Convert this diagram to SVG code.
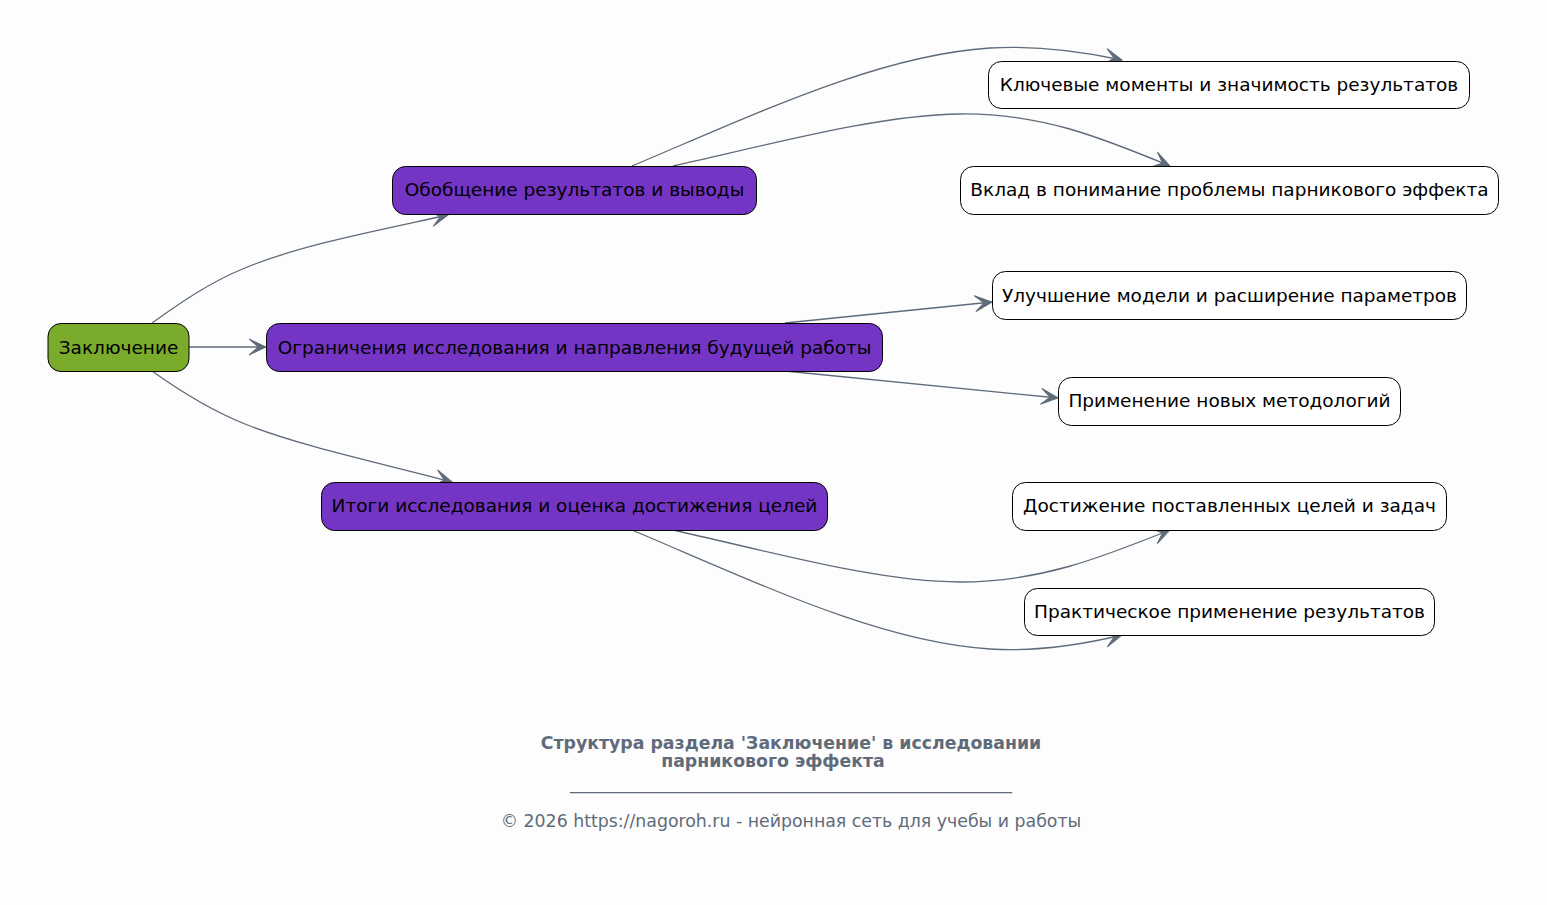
<svg xmlns="http://www.w3.org/2000/svg" width="1547" height="905" viewBox="0 0 1547 905">
<style>
.n rect{stroke:#000;stroke-width:1}
.n text{font-family:"DejaVu Sans",sans-serif;font-size:18.5px;fill:#000;text-anchor:middle;dominant-baseline:central}
.root rect{fill:#7aab2b}
.mid rect{fill:#7434c4}
.leaf rect{fill:#fff}
#edges path{fill:none;stroke:#5f6b7a;stroke-width:1.3;marker-end:url(#vee)}
.t{font-family:"DejaVu Sans",sans-serif;fill:#5f6b7a;text-anchor:middle;font-size:17.33px}
</style>
<defs>
<marker id="vee" viewBox="0 0 19 18" refX="18" refY="9" markerWidth="19" markerHeight="18" markerUnits="userSpaceOnUse" orient="auto">
<path d="M1,1 L18,9 L1,17 L10,9 Z" fill="#5f6b7a" stroke="#5f6b7a" stroke-width="1" stroke-linejoin="miter"/>
</marker>
</defs>
<rect width="1547" height="905" fill="#fdfdfd"/>
<g id="edges">
<path d="M152,323 C180,303 210,282 245,268 C300,245 380,230 448,215"/>
<path d="M189,347 L266,347"/>
<path d="M152,371 C180,391 210,410 245,424 C300,446 380,463 452,482"/>
<path d="M632,166 C760,112 880,55 990,48 C1040,45 1085,52 1122,60"/>
<path d="M673,166 C780,142 880,115 960,114 C1040,113 1100,137 1170,166"/>
<path d="M785,323 L992,302"/>
<path d="M785,371 L1058,398"/>
<path d="M673,530 C780,554 880,582 960,582 C1040,582 1100,558 1170,530"/>
<path d="M632,530 C760,584 880,642 990,649 C1040,652 1085,644 1122,635"/>
</g>
<g id="n0" class="n root"><rect x="48" y="323.5" width="141" height="48" rx="13"/><text x="118.5" y="347">Заключение</text></g>
<g id="n1" class="n mid"><rect x="392.5" y="166.5" width="364" height="48" rx="13"/><text x="574.5" y="189.5">Обобщение результатов и выводы</text></g>
<g id="n2" class="n mid"><rect x="266.5" y="323.5" width="616" height="48" rx="13"/><text x="574.5" y="347">Ограничения исследования и направления будущей работы</text></g>
<g id="n3" class="n mid"><rect x="321.5" y="482.5" width="506" height="48" rx="13"/><text x="574.5" y="505.5">Итоги исследования и оценка достижения целей</text></g>
<g id="n4" class="n leaf"><rect x="988.5" y="61.5" width="481" height="47" rx="13"/><text x="1229" y="84">Ключевые моменты и значимость результатов</text></g>
<g id="n5" class="n leaf"><rect x="960.5" y="166.5" width="538" height="48" rx="13"/><text x="1229.5" y="189.5">Вклад в понимание проблемы парникового эффекта</text></g>
<g id="n6" class="n leaf"><rect x="992.5" y="271.5" width="474" height="48" rx="13"/><text x="1229.5" y="295">Улучшение модели и расширение параметров</text></g>
<g id="n7" class="n leaf"><rect x="1058.5" y="377.5" width="342" height="48" rx="13"/><text x="1229.5" y="400.5">Применение новых методологий</text></g>
<g id="n8" class="n leaf"><rect x="1012.5" y="482.5" width="434" height="48" rx="13"/><text x="1229.5" y="505.5">Достижение поставленных целей и задач</text></g>
<g id="n9" class="n leaf"><rect x="1024.5" y="588.5" width="410" height="47" rx="13"/><text x="1229.5" y="611">Практическое применение результатов</text></g>
<g id="title">
<text class="t" x="791" y="749" font-weight="bold">Структура раздела 'Заключение' в исследовании</text>
<text class="t" x="773" y="767" font-weight="bold">парникового эффекта</text>
<text class="t" x="791" y="789">___________________________________________________</text>
<text class="t" x="791" y="827">© 2026 https://nagoroh.ru - нейронная сеть для учебы и работы</text>
</g>
</svg>
